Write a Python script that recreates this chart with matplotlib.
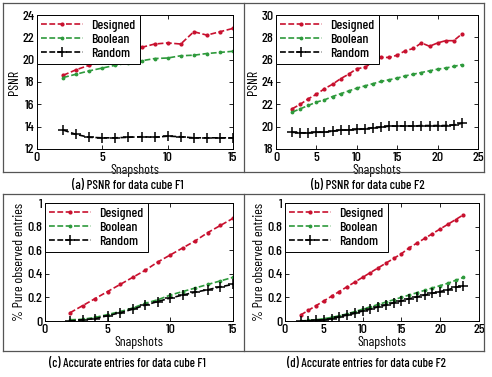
import matplotlib
matplotlib.use("Agg")
import matplotlib.pyplot as plt
from matplotlib.lines import Line2D

plt.rcParams['font.family'] = ['Barlow Condensed', 'DejaVu Sans']
plt.rcParams['font.weight'] = 'medium'
plt.rcParams['font.size'] = 10

# ---- data ----
x_f1 = list(range(2, 16))
x_f2 = list(range(2, 24))

psnr_f1_designed = [18.6, 19.1, 19.5, 19.9, 20.4, 20.6, 21.1, 21.4, 21.5, 21.4, 22.5, 22.2, 22.5, 22.8]
psnr_f1_boolean = [18.4, 18.7, 19.0, 19.25, 19.5, 19.7, 19.9, 20.1, 20.15, 20.35, 20.4, 20.55, 20.65, 20.75]
psnr_f1_random = [13.7, 13.3, 13.05, 13.0, 13.0, 13.05, 13.1, 13.05, 13.15, 13.1, 13.0, 13.0, 13.0, 13.0]

psnr_f2_designed = [21.6, 22.0, 22.5, 22.9, 23.4, 23.8, 24.3, 24.7, 25.2, 25.3, 25.8, 26.2, 26.2, 26.4,
                    26.8, 27.0, 27.5, 27.2, 27.5, 27.7, 27.7, 28.3]
psnr_f2_boolean = [21.3, 21.6, 21.9, 22.2, 22.4, 22.7, 22.95, 23.2, 23.45, 23.65, 23.85, 24.05, 24.2, 24.35,
                   24.55, 24.7, 24.85, 25.0, 25.15, 25.25, 25.4, 25.55]
psnr_f2_random = [19.5, 19.45, 19.45, 19.5, 19.5, 19.6, 19.7, 19.7, 19.75, 19.8, 19.9, 19.95, 20.05, 20.05,
                  20.05, 20.05, 20.1, 20.1, 20.1, 20.1, 20.15, 20.3]

acc_f1_designed = [0.07, 0.13, 0.19, 0.25, 0.31, 0.37, 0.43, 0.50, 0.56, 0.62, 0.68, 0.75, 0.81, 0.87]
acc_f1_boolean = [0.01, 0.015, 0.03, 0.055, 0.08, 0.11, 0.15, 0.18, 0.22, 0.25, 0.28, 0.31, 0.34, 0.37]
acc_f1_random = [0.0, 0.01, 0.02, 0.045, 0.07, 0.10, 0.135, 0.165, 0.195, 0.22, 0.245, 0.265, 0.29, 0.31]

acc_f2_designed = [0.05, 0.09, 0.13, 0.17, 0.21, 0.25, 0.29, 0.33, 0.37, 0.41, 0.45, 0.49, 0.53, 0.57,
                   0.62, 0.66, 0.70, 0.74, 0.78, 0.82, 0.86, 0.90]
acc_f2_boolean = [0.0, 0.005, 0.01, 0.02, 0.03, 0.045, 0.06, 0.08, 0.10, 0.12, 0.14, 0.16, 0.18, 0.20,
                  0.22, 0.24, 0.26, 0.28, 0.30, 0.32, 0.345, 0.37]
acc_f2_random = [0.0, 0.0, 0.005, 0.01, 0.02, 0.035, 0.05, 0.065, 0.085, 0.10, 0.12, 0.135, 0.155, 0.17,
                 0.19, 0.205, 0.22, 0.235, 0.25, 0.265, 0.285, 0.30]

series_names = ["Designed", "Boolean", "Random"]
captions = ["(a) PSNR for data cube F1", "(b) PSNR for data cube F2",
            "(c) Accurate entries for data cube F1", "(d) Accurate entries for data cube F2"]

W, H = 492, 377
fig = plt.figure(figsize=(W / 100, H / 100), dpi=100)

def px_axes(l, t, r, b):
    return fig.add_axes([l / W, 1 - b / H, (r - l) / W, (b - t) / H])

red = '#c8102e'
green = '#2e9a3c'
black = '#000000'

panels = [
    dict(rect=(37, 15, 233, 149), x=x_f1, ys=(psnr_f1_designed, psnr_f1_boolean, psnr_f1_random),
         xlim=(0, 15), xt=[0, 5, 10, 15], ylim=(12, 24), yt=[12, 14, 16, 18, 20, 22, 24], ylabel="PSNR",
         yl=None),
    dict(rect=(276, 15, 478, 149), x=x_f2, ys=(psnr_f2_designed, psnr_f2_boolean, psnr_f2_random),
         xlim=(0, 25), xt=[0, 5, 10, 15, 20, 25], ylim=(18, 30), yt=[18, 20, 22, 24, 26, 28, 30], ylabel="PSNR",
         yl=None),
    dict(rect=(45, 203, 233, 321), x=x_f1, ys=(acc_f1_designed, acc_f1_boolean, acc_f1_random),
         xlim=(0, 15), xt=[0, 5, 10, 15], ylim=(0, 1), yt=[0, 0.2, 0.4, 0.6, 0.8, 1.0],
         ylabel="% Pure observed entries", yl=["0", "0.2", "0.4", "0.6", "0.8", "1"]),
    dict(rect=(285, 203, 479, 321), x=x_f2, ys=(acc_f2_designed, acc_f2_boolean, acc_f2_random),
         xlim=(0, 25), xt=[0, 5, 10, 15, 20, 25], ylim=(0, 1), yt=[0, 0.2, 0.4, 0.6, 0.8, 1.0],
         ylabel="% Pure observed entries", yl=["0", "0.2", "0.4", "0.6", "0.8", "1"]),
]

for i, p in enumerate(panels):
    ax = px_axes(*p['rect'])
    d, bo, ra = p['ys']
    ax.plot(p['x'], d, color=red, ls=(0, (3.5, 1.5)), lw=1.2, marker='.', ms=4, label=series_names[0])
    ax.plot(p['x'], bo, color=green, ls=(0, (3.5, 1.5)), lw=1.2, marker='.', ms=3.5, label=series_names[1])
    ax.plot(p['x'], ra, color=black, ls=(0, (3.5, 1.5)), lw=1.2, marker='+', ms=7, mew=1.1, label=series_names[2])
    ax.set_xlim(*p['xlim'])
    ax.set_ylim(*p['ylim'])
    ax.set_xticks(p['xt'])
    ax.set_yticks(p['yt'])
    if p['yl']:
        ax.set_yticklabels(p['yl'])
    ax.tick_params(direction='in', top=True, right=True, length=3, width=0.6, pad=2, labelsize=10)
    for s in ax.spines.values():
        s.set_linewidth(0.7)
    ax.set_xlabel("Snapshots", fontsize=10, labelpad=0)
    ax.set_ylabel(p['ylabel'], fontsize=10, labelpad=1)
    leg = ax.legend(loc='upper left', borderaxespad=0, frameon=True, fancybox=False,
                    edgecolor='black', handlelength=3.0, handletextpad=0.6, labelspacing=0.1,
                    borderpad=0.3, fontsize=10)
    leg.get_frame().set_linewidth(0.7)
    leg.get_frame().set_alpha(1)

# captions
fig.text(128 / W, 1 - 186 / H, captions[0], ha='center', va='center', fontsize=9.3)
fig.text(368 / W, 1 - 186 / H, captions[1], ha='center', va='center', fontsize=9.3)
fig.text(127 / W, 1 - 364 / H, captions[2], ha='center', va='center', fontsize=9.0)
fig.text(366 / W, 1 - 364 / H, captions[3], ha='center', va='center', fontsize=9.0)

# panel frames
fc = '#555555'
def fline(x0, y0, x1, y1):
    fig.add_artist(Line2D([x0 / W, x1 / W], [1 - y0 / H, 1 - y1 / H], color=fc, lw=0.9))

for (t, b) in [(3, 172), (194, 351)]:
    fline(3, t, 484, t)
    fline(3, b, 484, b)
    fline(3, t, 3, b)
    fline(484, t, 484, b)
    fline(244, t, 244, b)

fig.savefig("out.png", dpi=100, facecolor='white')
